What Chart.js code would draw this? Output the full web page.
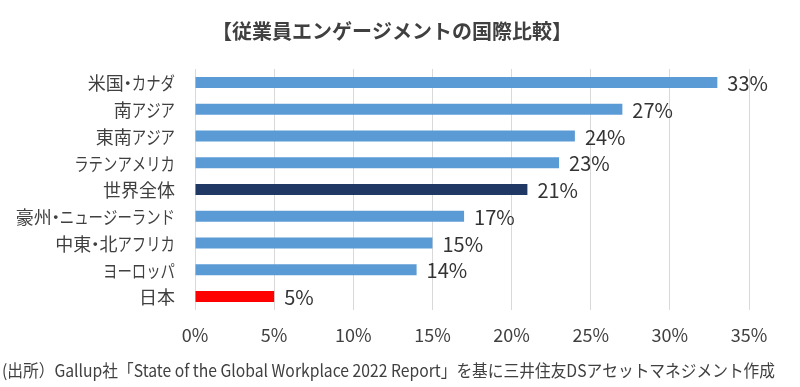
<!DOCTYPE html>
<html><head><meta charset="utf-8">
<script src="https://cdn.jsdelivr.net/npm/chart.js@4"></script>
<style>html,body{margin:0;padding:0;background:#fff}#wrap{width:800px;height:387px}</style>
</head><body><div id="wrap"><canvas id="c" width="800" height="387"></canvas></div>
<script>
const categories = ['米国・カナダ','南アジア','東南アジア','ラテンアメリカ','世界全体','豪州・ニュージーランド','中東・北アフリカ','ヨーロッパ','日本'];
const values = [33,27,24,23,21,17,15,14,5];
const barColors = ['#5B9BD5','#5B9BD5','#5B9BD5','#5B9BD5','#1F3864','#5B9BD5','#5B9BD5','#5B9BD5','#FF0000'];
const xTicks = [0,5,10,15,20,25,30,35];
const titleText = '【従業員エンゲージメントの国際比較】';
const footerText = '(出所）Gallup社「State of the Global Workplace 2022 Report」を基に三井住友DSアセットマネジメント作成';
const FONT = '"Noto Sans CJK JP", "Noto Sans", sans-serif';

// draw a label with full-width kanji and narrower (proportional-looking) kana
function charScale(ch){
  if (ch === '・') return 0.45;
  if (/[\u4e00-\u9fff]/.test(ch)) return 1.0;
  return 0.8;
}
function drawLabelRight(ctx, text, rightX, y){
  const chars = Array.from(text);
  const widths = chars.map(ch => ctx.measureText(ch).width * charScale(ch));
  let x = rightX - widths.reduce((a,b)=>a+b,0);
  chars.forEach((ch,i)=>{
    const s = charScale(ch);
    const full = ctx.measureText(ch).width;
    ctx.save();
    if (ch === '・') {
      ctx.translate(x + widths[i]/2 - full/2, y);
      ctx.fillText(ch, 0, 0);
    } else {
      ctx.translate(x, y);
      ctx.scale(s, 1);
      ctx.fillText(ch, 0, 0);
    }
    ctx.restore();
    x += widths[i];
  });
}

const deco = {
  id:'deco',
  afterDraw(chart){
    const ctx = chart.ctx;
    ctx.save();
    ctx.fillStyle = '#404040';
    ctx.font = 'bold 20px ' + FONT;
    ctx.textAlign = 'center'; ctx.textBaseline = 'middle';
    ctx.fillText(titleText, 392, 31);
    ctx.font = '17px ' + FONT;
    ctx.textAlign = 'left';
    ctx.fillText(footerText, 2, 371, 773);
    // category labels via y scale
    const ys = chart.scales.y;
    ctx.font = '18px ' + FONT;
    ctx.fillStyle = '#404040';
    ctx.textAlign = 'left'; ctx.textBaseline = 'middle';
    chart.data.labels.forEach((lab,i)=>{
      drawLabelRight(ctx, lab, 175, ys.getPixelForValue(i) + 1);
    });
    // data labels
    const meta = chart.getDatasetMeta(0);
    ctx.font = '20px ' + FONT;
    ctx.fillStyle = '#333333';
    ctx.textAlign = 'left'; ctx.textBaseline = 'middle';
    meta.data.forEach((bar,i)=>{
      ctx.fillText(values[i] + '%', bar.x + 10, bar.y + 1);
    });
    ctx.restore();
  }
};

new Chart(document.getElementById('c'), {
  type:'bar',
  data:{ labels:categories, datasets:[{ data:values, backgroundColor:barColors, borderWidth:0, barPercentage:0.41, categoryPercentage:1 }]},
  options:{
    indexAxis:'y', responsive:false, animation:false,
    layout:{ padding:{ top:69, bottom:35, right:51, left:0 } },
    plugins:{ legend:{display:false}, tooltip:{enabled:false} },
    scales:{
      x:{ min:0, max:35, afterFit(s){ s.height = 42; },
          afterBuildTicks(s){ s.ticks = xTicks.map(v=>({value:v})); },
          grid:{ color:'#D9D9D9', drawTicks:false, lineWidth:1 },
          border:{ display:false },
          ticks:{ padding:14, color:'#404040', font:{ size:18, family:FONT }, callback:(v)=>v+'%' } },
      y:{ afterFit(s){ s.width = 195; },
          grid:{ display:false, drawTicks:false },
          border:{ display:false },
          ticks:{ display:false } }
    }
  },
  plugins:[deco]
});
</script></body></html>
